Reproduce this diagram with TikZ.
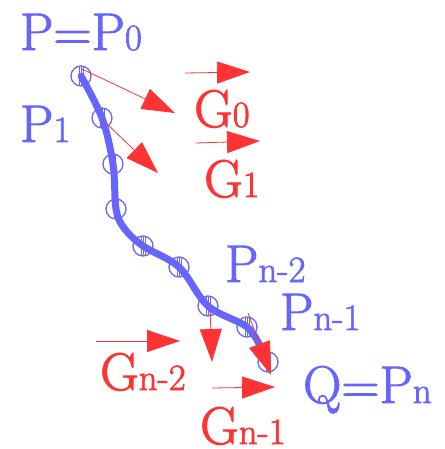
\documentclass[tikz,border=0pt]{standalone}
\usepackage{fontspec}
\usetikzlibrary{arrows.meta}
\newfontfamily\lblfont{Latin Modern Roman}[FakeBold=1.8]
\definecolor{pblue}{RGB}{102,102,255}
\definecolor{gred}{RGB}{255,51,51}
\newcommand\bigf{\fontsize{53}{53}\selectfont}
\newcommand\smf{\fontsize{37}{37}\selectfont}
\newcommand\lbl[2]{{\lblfont\bigf #1}{\lblfont\smf #2}}
\tikzset{
  pt/.style={circle, draw=pblue, line width=1.3pt, minimum size=20pt, inner sep=0pt},
  hatch/.style={draw=pblue, line width=0.4pt},
  curve/.style={draw=pblue, line width=7pt, line cap=round, line join=round},
  grad/.style={draw=gred, line width=0.8pt, -{Triangle[length=33pt,width=22pt,fill=gred]}},
  plab/.style={anchor=base west, inner sep=0pt, text depth=0pt, text=pblue},
  glab/.style={anchor=base west, inner sep=0pt, text depth=0pt, text=gred}
}
\begin{document}
\begin{tikzpicture}[x=1pt, y=-1pt]
\useasboundingbox (0,0) rectangle (444,449);
% points
\node[pt] (c0) at (81,76) {};
\node[pt] (c1) at (102,118) {};
\node[pt] (c2) at (113,164) {};
\node[pt] (c3) at (116,209) {};
\node[pt] (c4) at (143,246) {};
\node[pt] (c5) at (179,267) {};
\node[pt] (c6) at (208,306) {};
\node[pt] (c7) at (247,327) {};
\node[pt] (c8) at (268,362) {};
\foreach \c in {c0,c1,c2,c3,c4,c5,c6,c7,c8}{
  \draw[hatch] ([xshift=-2pt,yshift=-9pt]\c.center) -- ([xshift=-2pt,yshift=9pt]\c.center);
  \draw[hatch] ([yshift=-9pt]\c.center) -- ([yshift=9pt]\c.center);
  \draw[hatch] ([xshift=2pt,yshift=-9pt]\c.center) -- ([xshift=2pt,yshift=9pt]\c.center);
}
% curve
\coordinate (cend) at (262,350);
\coordinate (cb) at (124,228);
\draw[curve] plot[smooth, tension=0.55] coordinates
  {(c0.center) (c1.center) (c2.center) (c3.center) (cb) (c4.center) (c5.center) (c6.center) (c7.center) (cend)};
% gradient arrows
\coordinate (s1) at (82,69);   \coordinate (t1) at (175,113);
\coordinate (s2) at (105,122); \coordinate (t2) at (158,173);
\coordinate (s3) at (185,73);  \coordinate (t3) at (250,72);
\coordinate (s4) at (196,143); \coordinate (t4) at (260,141);
\coordinate (s5) at (96,341);  \coordinate (t5) at (180,341);
\coordinate (s6) at (210,308); \coordinate (t6) at (212,362);
\coordinate (s7) at (248,313); \coordinate (t7) at (271,375);
\coordinate (s8) at (212,388); \coordinate (t8) at (275,387);
\draw[grad] (s1) -- (t1);
\draw[grad] (s2) -- (t2);
\draw[grad] (s3) -- (t3);
\draw[grad] (s4) -- (t4);
\draw[grad] (s5) -- (t5);
\draw[grad] (s6) -- (t6);
\draw[grad] (s7) -- (t7);
\draw[grad] (s8) -- (t8);
% labels
\node[plab] (l0) at (20,50) {\lbl{P=P}{0}};
\node[plab] (l1) at (20,142) {\lbl{P}{1}};
\node[plab] (l2) at (225,282) {\lbl{P}{n-2}};
\node[plab] (l3) at (280,330) {\lbl{P}{n-1}};
\node[plab] (l4) at (303,403) {\lbl{Q=P}{n}};
\node[glab] (g0) at (194,127) {\lbl{G}{0}};
\node[glab] (g1) at (204,197) {\lbl{G}{1}};
\node[glab] (g2) at (100,390) {\lbl{G}{n-2}};
\node[glab] (g3) at (200,444) {\lbl{G}{n-1}};
\end{tikzpicture}
\end{document}
